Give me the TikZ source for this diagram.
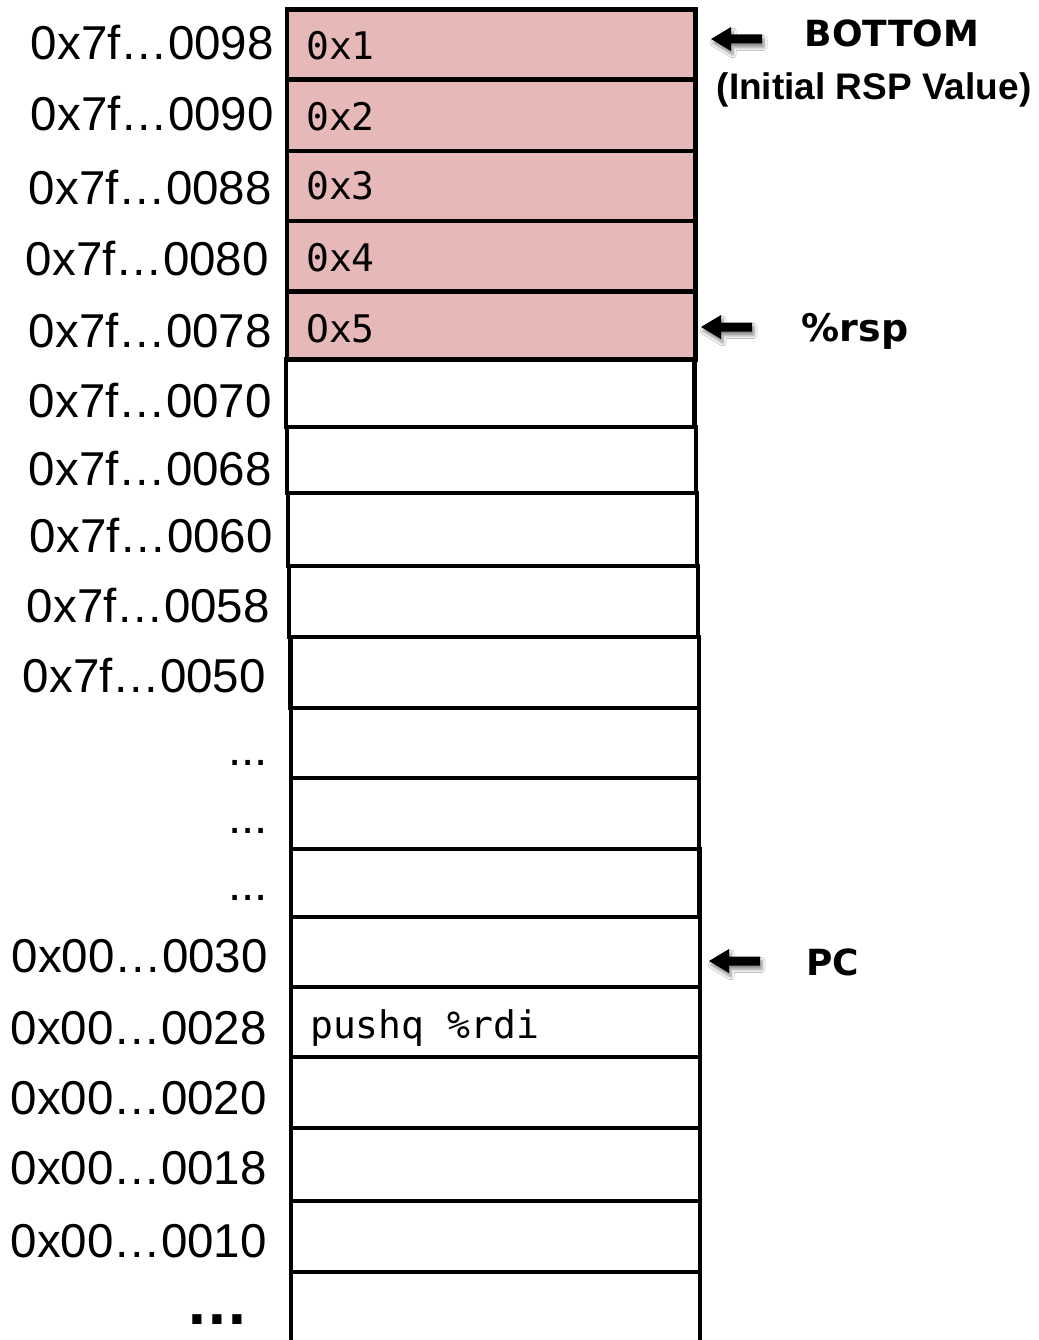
\documentclass[tikz,border=0pt]{standalone}
\usepackage{fontspec}
\setmainfont{Liberation Sans}
\newfontfamily\addrfont{Liberation Sans}
\newfontfamily\codefont{DejaVu Sans Mono}
\newfontfamily\tagfont{DejaVu Sans}
\usetikzlibrary{shadows.blur}

\definecolor{stackpink}{HTML}{E6B9B8}

\tikzset{
  cellbox/.style={draw=black, line width=4.2pt, inner sep=0pt, outer sep=0pt, fill=white},
  usedcell/.style={cellbox, fill=stackpink},
  addr/.style={anchor=base east, inner sep=0pt, font=\addrfont\fontsize{47.5}{56}\selectfont},
  code/.style={anchor=base west, inner sep=0pt, font=\codefont\fontsize{38}{46}\selectfont},
  tag/.style={anchor=base, inner sep=0pt, font=\tagfont\bfseries\fontsize{36}{44}\selectfont},
  ptrarrow/.style={fill=black, blur shadow={shadow xshift=2pt, shadow yshift=-4pt,
      shadow opacity=45, shadow blur radius=3pt, shadow blur steps=6}},
}

% one memory slot: name, top, bottom, left, right, style
\newcommand\memslot[6]{%
  \node[#6, minimum width={#5-#4}, minimum height={#3-#2}]
    (#1) at ({(#4+#5)/2},{(#2+#3)/2}) {};}

% thick left-pointing arrow drawn as a filled outline from its tip
\newcommand\ptr[1]{%
  \fill[ptrarrow] (#1) -- ++(20,-12) -- ++(0,7.5) -- ++(31,0) -- ++(0,9)
    -- ++(-31,0) -- ++(0,7.5) -- cycle;}

\begin{document}
\begin{tikzpicture}[x=1pt, y=-1pt]
\useasboundingbox (0,0) rectangle (1038,1340);
\fill[white] (0,0) rectangle (1038,1340);
\clip (0,0) rectangle (1038,1340);

% stack slots, highest address at the top
\memslot{s1}{9.5}{79.5}{287}{695.5}{usedcell}
\memslot{s2}{79.5}{151}{287}{695.5}{usedcell}
\memslot{s3}{151}{221}{287}{695.5}{usedcell}
\memslot{s4}{221}{291.5}{287}{695.5}{usedcell}
\memslot{s5}{291.5}{359.5}{287}{695.5}{usedcell}
\memslot{s6}{359.5}{427}{286}{694.5}{cellbox}
\memslot{s7}{427}{493}{287}{696}{cellbox}
\memslot{s8}{493}{566}{288}{697}{cellbox}
\memslot{s9}{566}{637}{289}{698}{cellbox}
\memslot{s10}{637}{708}{290.5}{699}{cellbox}
\memslot{s11}{708}{778}{291}{699}{cellbox}
\memslot{s12}{778}{849}{291}{699}{cellbox}
\memslot{s13}{849}{917}{291}{699.5}{cellbox}
\memslot{s14}{917}{987}{291}{700}{cellbox}
\memslot{s15}{987}{1057}{291}{700}{cellbox}
\memslot{s16}{1057}{1128}{291}{700}{cellbox}
\memslot{s17}{1128}{1201}{291}{700}{cellbox}
\memslot{s18}{1201}{1272}{291}{700}{cellbox}
\memslot{s19}{1272}{1370}{291}{700}{cellbox}

% slot contents
\node[code] (v1) at (306,60) {0x1};
\node[code] (v2) at (306,131) {0x2};
\node[code] (v3) at (306,200) {0x3};
\node[code] (v4) at (306,272) {0x4};
\node[code] (v5) at (306,342) {Ox5};
\node[code] (v6) at (310,1038) {pushq \%rdi};

% addresses
\node[addr] (a1) at (274,60) {0x7f…0098};
\node[addr] (a2) at (274,131) {0x7f…0090};
\node[addr] (a3) at (272,205) {0x7f…0088};
\node[addr] (a4) at (269,275) {0x7f…0080};
\node[addr] (a5) at (272,347) {0x7f…0078};
\node[addr] (a6) at (272,417) {0x7f…0070};
\node[addr] (a7) at (272,485) {0x7f…0068};
\node[addr] (a8) at (273,552) {0x7f…0060};
\node[addr] (a9) at (270,622) {0x7f…0058};
\node[addr] (a10) at (266,692) {0x7f…0050};
\node[addr] (a11) at (268,765) {...};
\node[addr] (a12) at (268,833) {...};
\node[addr] (a13) at (268,900) {...};
\node[addr] (a14) at (268,972) {0x00…0030};
\node[addr] (a15) at (267,1044) {0x00…0028};
\node[addr] (a16) at (267,1114) {0x00…0020};
\node[addr] (a17) at (267,1184) {0x00…0018};
\node[addr] (a18) at (267,1257) {0x00…0010};
\node[anchor=base east, inner sep=0pt, font=\tagfont\bfseries\fontsize{52}{60}\selectfont]
  (a19) at (247,1324) {...};

% pointers
\node[tag] (bottom) at (892,47) {BOTTOM};
\node[anchor=base, inner sep=0pt, font=\addrfont\bfseries\fontsize{37}{44}\selectfont]
  (initrsp) at (874,100) {(Initial RSP Value)};
\node[tag, font=\tagfont\bfseries\fontsize{38}{46}\selectfont] (rsp) at (855,341) {\%rsp};
\node[tag] (pc) at (833,975) {PC};

\coordinate (bottomTip) at (711,39);
\coordinate (rspTip) at (701,327);
\coordinate (pcTip) at (709,961);
\ptr{bottomTip}
\ptr{rspTip}
\ptr{pcTip}
\end{tikzpicture}
\end{document}
